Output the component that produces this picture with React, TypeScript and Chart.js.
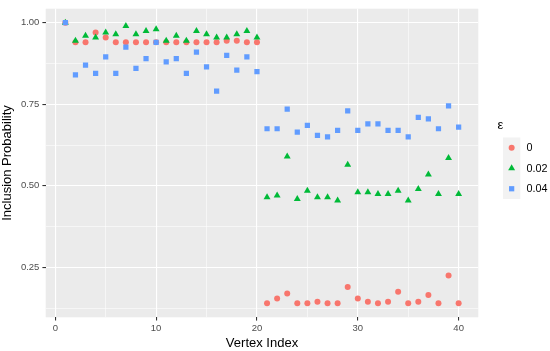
import React, { useEffect, useRef } from "react";
import { Chart, registerables } from "chart.js";

Chart.register(...registerables);

// ---- data ----
const vertexIndex = [
  1, 2, 3, 4, 5, 6, 7, 8, 9, 10, 11, 12, 13, 14, 15, 16, 17, 18, 19, 20,
  21, 22, 23, 24, 25, 26, 27, 28, 29, 30, 31, 32, 33, 34, 35, 36, 37, 38, 39, 40,
];

const eps0 = [
  1.0, 0.94, 0.94, 0.97, 0.955, 0.94, 0.94, 0.94, 0.94, 0.94,
  0.94, 0.94, 0.94, 0.94, 0.94, 0.94, 0.945, 0.945, 0.94, 0.94,
  0.14, 0.155, 0.17, 0.14, 0.14, 0.145, 0.14, 0.14, 0.19, 0.155,
  0.145, 0.14, 0.145, 0.175, 0.14, 0.145, 0.165, 0.14, 0.225, 0.14,
];

const eps002 = [
  1.0, 0.945, 0.96, 0.955, 0.97, 0.965, 0.99, 0.965, 0.975, 0.98,
  0.945, 0.96, 0.945, 0.975, 0.965, 0.955, 0.955, 0.965, 0.975, 0.955,
  0.465, 0.47, 0.59, 0.46, 0.485, 0.465, 0.465, 0.455, 0.565, 0.48,
  0.48, 0.475, 0.475, 0.485, 0.455, 0.49, 0.535, 0.475, 0.585, 0.475,
];

const eps004 = [
  1.0, 0.84, 0.87, 0.845, 0.895, 0.845, 0.925, 0.86, 0.89, 0.94,
  0.88, 0.89, 0.845, 0.91, 0.865, 0.79, 0.9, 0.855, 0.895, 0.85,
  0.675, 0.675, 0.735, 0.665, 0.685, 0.655, 0.65, 0.67, 0.73, 0.67,
  0.69, 0.69, 0.67, 0.67, 0.65, 0.71, 0.705, 0.675, 0.745, 0.68,
];

const seriesLabels = ["0", "0.02", "0.04"];
const legendTitle = "ε";
const xTitle = "Vertex Index";
const yTitle = "Inclusion Probability";

const xMajorTicks = [0, 10, 20, 30, 40];
const xAllTicks = [0, 5, 10, 15, 20, 25, 30, 35, 40];
const yMajorTicks = [0.25, 0.5, 0.75, 1.0];
const yAllTicks = [0.125, 0.25, 0.375, 0.5, 0.625, 0.75, 0.875, 1.0];

// ---- styles ----
const COLORS = ["#F8766D", "#00BA38", "#619CFF"];
const STYLES = ["circle", "triangle", "rect"];
const RADII = [3.0, 4.0, 3.7];
const FONT = "'Liberation Sans', Arial, Helvetica, sans-serif";

function drawMarker(ctx: CanvasRenderingContext2D, style: string, x: number, y: number, r: number, color: string) {
  ctx.save();
  ctx.fillStyle = color;
  ctx.beginPath();
  if (style === "circle") {
    ctx.arc(x, y, r, 0, Math.PI * 2);
  } else if (style === "triangle") {
    ctx.moveTo(x, y - r);
    ctx.lineTo(x + Math.sin((2 * Math.PI) / 3) * r, y - Math.cos((2 * Math.PI) / 3) * r);
    ctx.lineTo(x + Math.sin((4 * Math.PI) / 3) * r, y - Math.cos((4 * Math.PI) / 3) * r);
    ctx.closePath();
  } else {
    const s = Math.SQRT1_2 * r;
    ctx.rect(x - s, y - s, 2 * s, 2 * s);
  }
  ctx.fill();
  ctx.restore();
}

const panelBg = {
  id: "panelBg",
  beforeDraw(chart: any) {
    const { ctx, chartArea } = chart;
    ctx.save();
    ctx.fillStyle = "#EBEBEB";
    ctx.fillRect(chartArea.left, chartArea.top, chartArea.right - chartArea.left, chartArea.bottom - chartArea.top);
    ctx.restore();
  },
};

const ggLegend = {
  id: "ggLegend",
  afterDraw(chart: any) {
    const ctx: CanvasRenderingContext2D = chart.ctx;
    ctx.save();
    ctx.fillStyle = "#000000";
    ctx.font = `13px ${FONT}`;
    ctx.textAlign = "left";
    ctx.textBaseline = "alphabetic";
    ctx.fillText(legendTitle, 497.5, 129);
    const boxLeft = 503;
    const boxW = 17.3;
    const top = 137.5;
    const keyH = 20.5;
    ctx.fillStyle = "#F2F2F2";
    ctx.fillRect(boxLeft, top, boxW, keyH * seriesLabels.length);
    seriesLabels.forEach((lab, k) => {
      const cy = top + keyH * k + keyH / 2;
      drawMarker(ctx, STYLES[k], boxLeft + boxW / 2, cy, RADII[k], COLORS[k]);
      ctx.fillStyle = "#000000";
      ctx.font = `10.8px ${FONT}`;
      ctx.textBaseline = "middle";
      ctx.fillText(lab, 526.5, cy + 0.5);
    });
    ctx.restore();
  },
};

export default function App() {
  const canvasRef = useRef<HTMLCanvasElement | null>(null);

  useEffect(() => {
    document.body.style.margin = "0";
    const canvas = canvasRef.current;
    if (!canvas) return;
    const seriesData = [eps0, eps002, eps004];
    const datasets = seriesData.map((vals, k) => ({
      label: seriesLabels[k],
      data: vertexIndex.map((x, i) => ({ x, y: vals[i] })),
      pointStyle: STYLES[k],
      pointRadius: RADII[k],
      pointHoverRadius: RADII[k],
      backgroundColor: COLORS[k],
      borderColor: COLORS[k],
      pointBorderWidth: 0,
      borderWidth: 0,
      order: 3 - k,
    }));

    const chart = new Chart(canvas, {
      type: "scatter",
      data: { datasets } as any,
      plugins: [panelBg, ggLegend],
      options: {
        responsive: false,
        animation: false,
        devicePixelRatio: 1,
        layout: { padding: { left: 0, right: 71.7, top: 2.7, bottom: 0 } },
        plugins: {
          legend: { display: false },
          tooltip: { enabled: false },
        },
        scales: {
          x: {
            type: "linear",
            min: -0.95,
            max: 41.95,
            afterBuildTicks: (scale: any) => {
              scale.ticks = xAllTicks.map((v) => ({ value: v }));
            },
            afterFit: (scale: any) => {
              scale.height = 33.7;
            },
            border: { display: false },
            grid: {
              color: "#FFFFFF",
              lineWidth: (c: any) => (xMajorTicks.includes(c.tick?.value) ? 1.1 : 0.55),
              drawTicks: true,
              tickLength: 3.3,
              tickWidth: 1.1,
              tickColor: (c: any) => (xMajorTicks.includes(c.tick?.value) ? "#333333" : "rgba(0,0,0,0)"),
            },
            ticks: {
              autoSkip: false,
              maxRotation: 0,
              padding: 2,
              color: "#4D4D4D",
              font: { family: FONT, size: 9.5 },
              callback: (v: any) => (xMajorTicks.includes(Number(v)) ? String(v) : ""),
            },
            title: {
              display: true,
              text: xTitle,
              color: "#000000",
              padding: 0,
              font: { family: FONT, size: 13 },
            },
          },
          y: {
            type: "linear",
            min: 0.097,
            max: 1.043,
            afterBuildTicks: (scale: any) => {
              scale.ticks = yAllTicks.map((v) => ({ value: v }));
            },
            afterFit: (scale: any) => {
              scale.width = 45.7;
            },
            border: { display: false },
            grid: {
              color: "#FFFFFF",
              lineWidth: (c: any) => (yMajorTicks.includes(c.tick?.value) ? 1.1 : 0.55),
              drawTicks: true,
              tickLength: 3.3,
              tickWidth: 1.1,
              tickColor: (c: any) => (yMajorTicks.includes(c.tick?.value) ? "#333333" : "rgba(0,0,0,0)"),
            },
            ticks: {
              autoSkip: false,
              padding: 3,
              color: "#4D4D4D",
              font: { family: FONT, size: 9.5 },
              callback: (v: any) => (yMajorTicks.includes(Number(v)) ? Number(v).toFixed(2) : ""),
            },
            title: {
              display: true,
              text: yTitle,
              color: "#000000",
              padding: 0,
              font: { family: FONT, size: 13 },
            },
          },
        },
      } as any,
    });
    return () => chart.destroy();
  }, []);

  return (
    <div style={{ position: "absolute", left: 0, top: 0, width: 550, height: 351 }}>
      <canvas ref={canvasRef} width={550} height={351} style={{ width: 550, height: 351, display: "block" }} />
    </div>
  );
}
